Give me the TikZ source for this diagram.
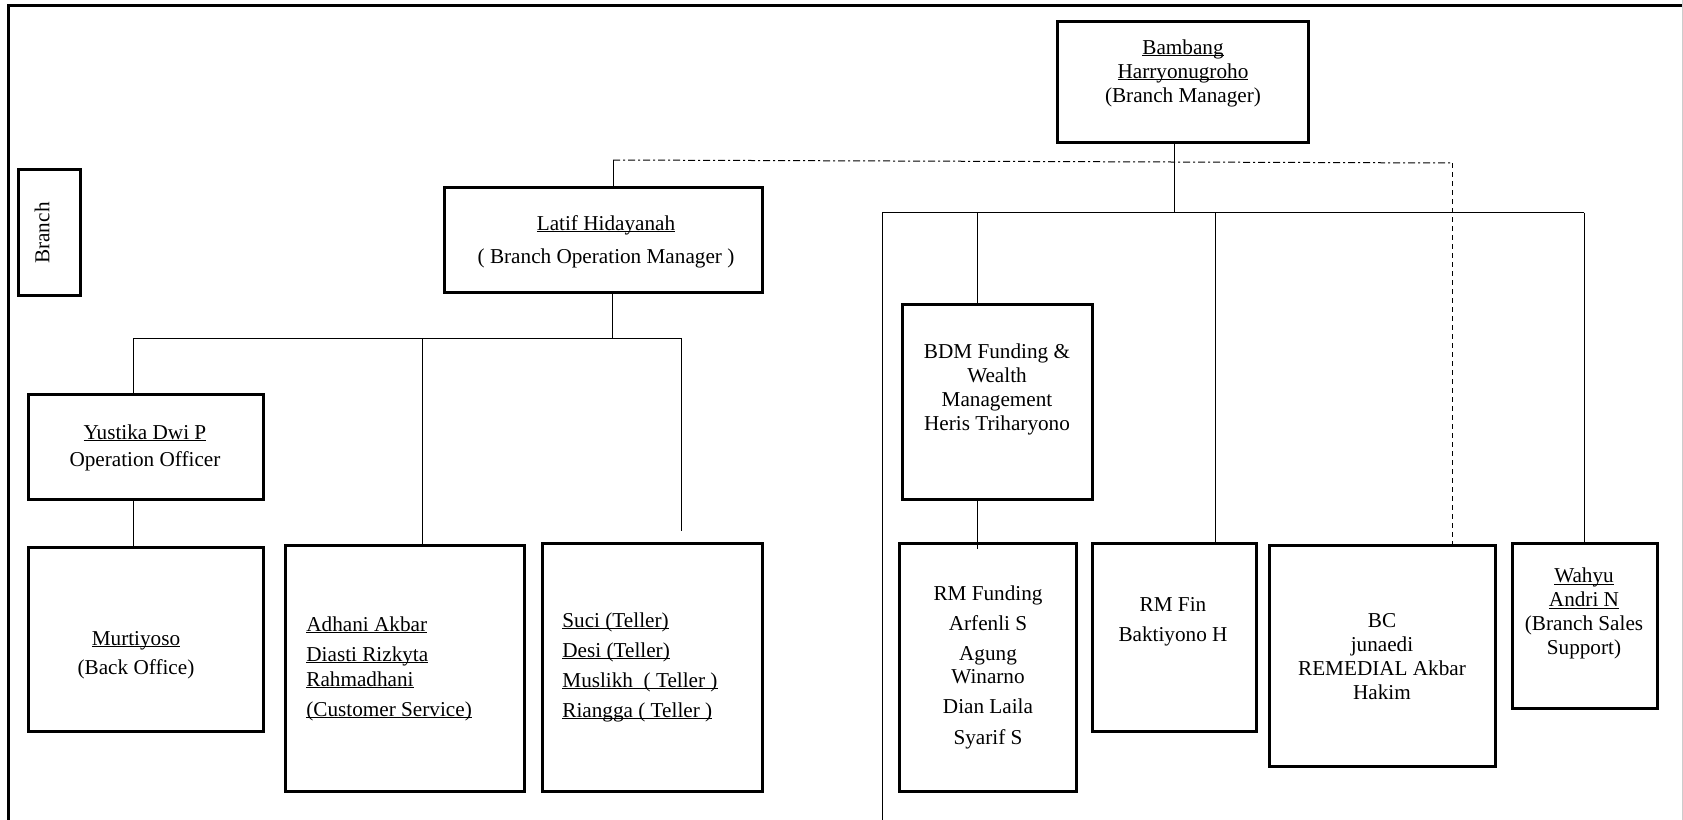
\documentclass[tikz,border=0pt]{standalone}
\usepackage{fontspec}
\setmainfont{Liberation Serif}
\newsavebox\undlbox
\newcommand{\undl}[1]{\sbox\undlbox{#1}\rlap{\rule[-1.2pt]{\wd\undlbox}{0.5pt}}\usebox\undlbox}
\tikzset{
  box/.style={draw, line width=1.5pt, inner sep=0pt},
  txt/.style={font=\fontsize{10.6}{12}\selectfont, align=center, inner sep=0pt},
  conn/.style={line width=0.5pt},
  dashdot/.style={line width=0.5pt, dash pattern=on 3.5pt off 1.5pt on 1pt off 1.5pt},
  dashline/.style={line width=0.5pt, dash pattern=on 2.5pt off 2pt}
}
\begin{document}
\begin{tikzpicture}[x=0.5pt, y=-0.5pt]
  \useasboundingbox (0,0) rectangle (1683,820);
  \draw[line width=1.5pt] (8,820) -- (8,5.5) -- (1683,5.5);
  \draw[gray!40, line width=0.5pt] (1682.5,0) -- (1682.5,820);

  \node[box, minimum width=125.5pt, minimum height=60.5pt] (bm) at (1182.5,81.5) {};
  \node[box, minimum width=31pt, minimum height=63pt] (branch) at (49,232) {};
  \node[box, minimum width=159pt, minimum height=52.5pt] (bom) at (603,239.5) {};
  \node[box, minimum width=117.5pt, minimum height=52.5pt] (oo) at (145.5,446.5) {};
  \node[box, minimum width=117.5pt, minimum height=92pt] (bo) at (145.5,639) {};
  \node[box, minimum width=119.5pt, minimum height=123pt] (cs) at (404.5,668) {};
  \node[box, minimum width=110pt, minimum height=124pt] (tl) at (652,667) {};
  \node[box, minimum width=95pt, minimum height=97.5pt] (bdm) at (997,401.5) {};
  \node[box, minimum width=88.5pt, minimum height=124pt] (rmf) at (987.5,667) {};
  \node[box, minimum width=82pt, minimum height=94pt] (rmfin) at (1174,637) {};
  \node[box, minimum width=113pt, minimum height=110.5pt] (bc) at (1382,655.5) {};
  \node[box, minimum width=72.5pt, minimum height=82.5pt] (bss) at (1584.5,625.5) {};

  \node[txt, anchor=base] (bm-t) at (1183,102) {\undl{Bambang}\\\undl{Harryonugroho}\\(Branch Manager)};
  \node[txt, rotate=90] (branch-t) at (42,233) {Branch};
  \node[txt, anchor=base] (bom-t) at (606,263) {\undl{Latif Hidayanah}\\[4.5pt]( Branch Operation Manager )};
  \node[txt, anchor=base] (oo-t) at (145,466) {\undl{Yustika Dwi P}\\[1.5pt]Operation Officer};
  \node[txt, anchor=base] (bo-t) at (136,674) {\undl{Murtiyoso}\\[2.5pt](Back Office)};
  \node[txt, align=left, anchor=base west] (cs-t) at (306,716) {\undl{Adhani Akbar}\\[3pt]\undl{Diasti Rizkyta}\\[0.5pt]\undl{Rahmadhani}\\[3pt]\undl{(Customer Service)}};
  \node[txt, align=left, anchor=base west] (tl-t) at (562,717) {\undl{Suci (Teller)}\\[3pt]\undl{Desi (Teller)}\\[3pt]\undl{Muslikh~~( Teller )}\\[3pt]\undl{Riangga ( Teller )}};
  \node[txt, anchor=base] (bdm-t) at (997,430.5) {BDM Funding \&\\Wealth\\Management\\Heris Triharyono};
  \node[txt, anchor=base] (rmf-t) at (988,744) {RM Funding\\[3pt]Arfenli S\\[3pt]Agung\\[-0.5pt]Winarno\\[3pt]Dian Laila\\[3.5pt]Syarif S};
  \node[txt, anchor=base] (rmfin-t) at (1173,641.5) {RM Fin\\[3pt]Baktiyono H};
  \node[txt, anchor=base] (bc-t) at (1382,699) {BC\\junaedi\\REMEDIAL Akbar\\Hakim};
  \node[txt, anchor=base] (bss-t) at (1584,654.5) {\undl{Wahyu}\\\undl{Andri N}\\(Branch Sales\\Support)};

  \coordinate (dd-l) at (613,160);
  \coordinate (dd-r) at (1452,163);
  \coordinate (rbus-l) at (882,212.5);
  \coordinate (rbus-r) at (1584,212.5);
  \coordinate (rbus-end) at (882,820);
  \coordinate (rbus-bm) at (1174,212.5);
  \coordinate (rbus-bdm) at (977,212.5);
  \coordinate (rbus-fin) at (1215,212.5);
  \coordinate (lbus-l) at (133,338);
  \coordinate (lbus-r) at (681,338);
  \coordinate (lbus-bom) at (612,338);
  \coordinate (lbus-cs) at (422,338);
  \coordinate (lbus-end) at (681,531);

  \draw[dashdot] (dd-l) -- (dd-r);
  \draw[conn] (dd-l) -- (dd-l |- bom.north);
  \draw[dashline] (dd-r) -- ([yshift=-1.5pt]dd-r |- bc.north);

  \draw[conn] (rbus-bm |- bm.south) -- (rbus-bm);
  \draw[conn] (rbus-l) -- (rbus-r);
  \draw[conn] (rbus-l) -- (rbus-end);
  \draw[conn] (rbus-bdm) -- (rbus-bdm |- bdm.north);
  \draw[conn] (rbus-bdm |- bdm.south) -- ([yshift=-3.5pt]rbus-bdm |- rmf.north);
  \draw[conn] (rbus-fin) -- (rbus-fin |- rmfin.north);
  \draw[conn] (rbus-r) -- ([yshift=-1pt]rbus-r |- bss.north);

  \draw[conn] (lbus-bom |- bom.south) -- (lbus-bom);
  \draw[conn] (lbus-l) -- (lbus-r);
  \draw[conn] (lbus-l) -- (lbus-l |- oo.north);
  \draw[conn] (lbus-l |- oo.south) -- (lbus-l |- bo.north);
  \draw[conn] (lbus-cs) -- (lbus-cs |- cs.north);
  \draw[conn] (lbus-r) -- (lbus-end);
\end{tikzpicture}
\end{document}
